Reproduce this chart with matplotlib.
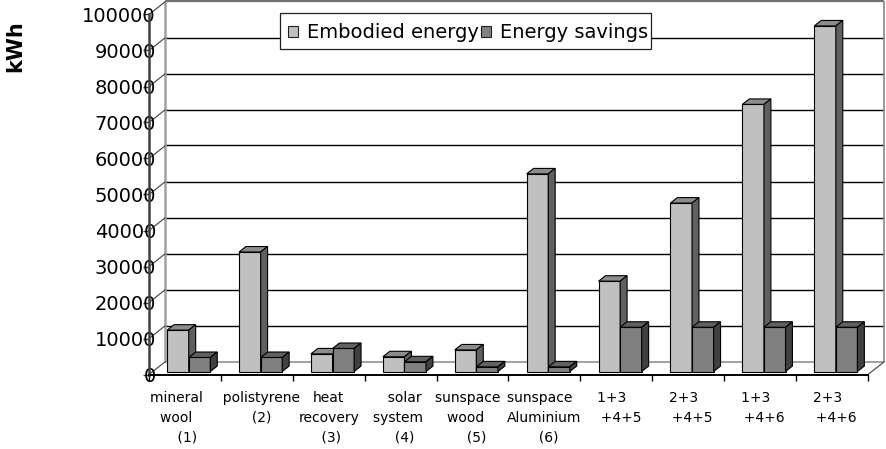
import matplotlib
matplotlib.use("Agg")
import matplotlib.pyplot as plt
from matplotlib.patches import Polygon, Rectangle
from matplotlib.ticker import FixedLocator, FuncFormatter

# ---- data -------------------------------------------------------------
categories = [
    "mineral    \nwool    \n (1)",
    "  polistyrene\n  (2)",
    "heat\nrecovery\n (3)",
    "  solar\nsystem \n  (4)",
    "sunspace  \nwood   \n  (5)",
    "sunspace  \nAluminium\n  (6)",
    "1+3  \n  +4+5",
    "2+3  \n  +4+5",
    "1+3  \n  +4+6",
    "2+3  \n  +4+6",
]
embodied_energy = [11500, 33200, 4900, 4100, 6000, 54900, 25100, 46800, 74200, 96000]
energy_savings = [3900, 3900, 6400, 2700, 1300, 1300, 12300, 12300, 12300, 12300]
series_names = ["Embodied energy", "Energy savings"]
y_ticks = list(range(0, 100001, 10000))
y_label = "kWh"

# ---- styling ----------------------------------------------------------
plt.rcParams["font.family"] = ["DejaVu Sans"]
face_colors = {
    "Embodied energy": ("#C0C0C0", "#8C8C8C", "#606060"),  # front, top, side
    "Energy savings": ("#808080", "#606060", "#404040"),
}

W, H, DPI = 887, 449, 100
fig = plt.figure(figsize=(W / DPI, H / DPI), dpi=DPI)
fig.patch.set_facecolor("white")

# front plane of the plot area, in pixels
L, R, B, T = 149.0, 868.0, 374.5, 14.5
ax = fig.add_axes([L / W, 1 - B / H, (R - L) / W, (B - T) / H])
n = len(categories)
ymax = y_ticks[-1]
ax.set_xlim(0, n)
ax.set_ylim(0, ymax)
ax.set_facecolor("none")

cat_px = (R - L) / n
px_per_val = (B - T) / ymax
# oblique depth of the 3-D box, expressed in data units
DX = 16.5 / cat_px
DY = 13.0 / px_per_val

# ---- walls and floor --------------------------------------------------
wall_kw = dict(clip_on=False, zorder=1, solid_capstyle="butt")
# back-wall gridlines
for v in y_ticks[1:-1]:
    ax.plot([DX, n + DX], [v + DY, v + DY], color="black", lw=1.0, **wall_kw)
# back-wall frame
ax.plot([DX, n + DX], [ymax + DY, ymax + DY], color="#707070", lw=1.6, **wall_kw)
ax.plot([n + DX, n + DX], [DY, ymax + DY], color="#909090", lw=1.3, **wall_kw)
ax.plot([DX, DX], [DY, ymax + DY], color="#A0A0A0", lw=1.8, **wall_kw)
ax.plot([DX, n + DX], [DY, DY], color="#909090", lw=1.2, **wall_kw)
# side-wall gridlines
for v in y_ticks:
    ax.plot([0, DX], [v, v + DY], color="#404040", lw=0.8, **wall_kw)
ax.plot([n, n + DX], [0, DY], color="#404040", lw=0.8, **wall_kw)

# ---- 3-D columns ------------------------------------------------------
bar_w = 0.30
gap = (1 - 2 * bar_w) / 2
f0, f1 = 0.23, 0.65  # front and back of the columns within the box depth
ddx, ddy = (f1 - f0) * DX, (f1 - f0) * DY


def column(x0, value, colors):
    front_c, top_c, side_c = colors
    b0 = f0 * DY
    t = b0 + value
    x1 = x0 + bar_w
    faces = [
        ([(x0, b0), (x1, b0), (x1, t), (x0, t)], front_c),
        ([(x0, t), (x1, t), (x1 + ddx, t + ddy), (x0 + ddx, t + ddy)], top_c),
        ([(x1, b0), (x1 + ddx, b0 + ddy), (x1 + ddx, t + ddy), (x1, t)], side_c),
    ]
    for verts, c in faces:
        ax.add_patch(Polygon(verts, closed=True, facecolor=c, edgecolor="black",
                             lw=0.8, joinstyle="miter", clip_on=False, zorder=3))


for i in range(n):
    base = i + f0 * DX + gap
    column(base, embodied_energy[i], face_colors[series_names[0]])
    column(base + bar_w, energy_savings[i], face_colors[series_names[1]])

# ---- axes -------------------------------------------------------------
for s in ("top", "right"):
    ax.spines[s].set_visible(False)
ax.spines["left"].set_color("#404040")
ax.spines["left"].set_linewidth(1.8)
ax.spines["bottom"].set_color("black")
ax.spines["bottom"].set_linewidth(1.4)
ax.spines["left"].set_zorder(4)
ax.spines["bottom"].set_zorder(4)

ax.yaxis.set_major_locator(FixedLocator(y_ticks))
ax.yaxis.set_major_formatter(FuncFormatter(lambda v, p: f"{int(v)}"))
ax.tick_params(axis="y", direction="out", length=4.5, width=1.0, color="#404040",
               pad=-9.5, labelsize=14, labelcolor="black")

ax.xaxis.set_major_locator(FixedLocator(range(n + 1)))
ax.xaxis.set_major_formatter(FuncFormatter(lambda v, p: ""))
ax.tick_params(axis="x", direction="out", length=4.5, width=1.0, color="black")

for i, lab in enumerate(categories):
    ax.annotate(lab, xy=(i + 0.5, 0), xycoords="data",
                xytext=(0, -16.2 * 0.72), textcoords="offset points",
                ha="center", va="top", multialignment="center",
                fontsize=10, linespacing=1.55, color="black", annotation_clip=False)

fig.text(15 / W, 1 - 46 / H, y_label, rotation=90, fontsize=15, fontweight="bold",
         ha="center", va="center")

# ---- legend -----------------------------------------------------------
def fx(px):
    return px / W


def fy(py):
    return 1 - py / H


fig.add_artist(Rectangle((fx(280), fy(49)), fx(651) - fx(280), fy(13) - fy(49),
                         transform=fig.transFigure, facecolor="white",
                         edgecolor="#202020", lw=0.9, zorder=10))
for name, px0, tx in ((series_names[0], 288, 307), (series_names[1], 481, 500)):
    fig.add_artist(Rectangle((fx(px0), fy(37)), fx(px0 + 10) - fx(px0), fy(26) - fy(37),
                             transform=fig.transFigure, facecolor=face_colors[name][0],
                             edgecolor="#202020", lw=0.8, zorder=11))
    fig.text(fx(tx), fy(37.7), name, fontsize=14, ha="left", va="baseline", zorder=12)

fig.savefig("out.png", dpi=DPI)
